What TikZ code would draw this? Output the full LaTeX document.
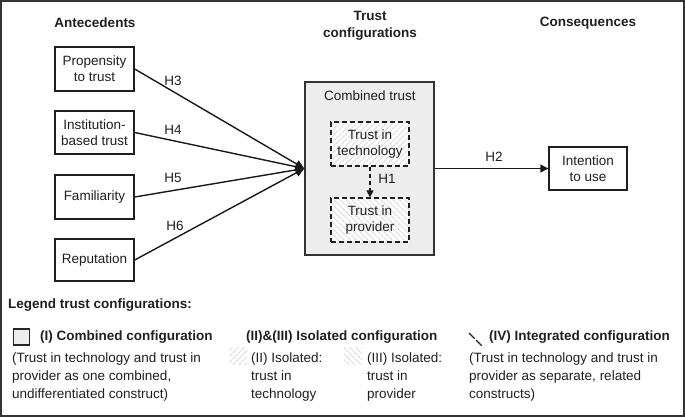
\documentclass[tikz,border=0pt]{standalone}
\usepackage{fontspec}
\setmainfont{Liberation Sans}
\usetikzlibrary{arrows.meta,patterns.meta}
\begin{document}
\begin{tikzpicture}[x=1pt,y=-1pt,
  every node/.style={font=\fontsize{13.5}{16}\selectfont, text=black!88},
  box/.style={draw=black!88, line width=1.4pt, fill=white, align=center, inner sep=0pt, minimum width=79pt},
  cbox/.style={draw=black!80, line width=1.4pt, fill=gray!14, inner sep=0pt, minimum width=129pt, minimum height=173pt},
  dbox/.style={draw=black!88, line width=1.5pt, dash pattern=on 5pt off 3pt, align=center, inner sep=0pt,
     minimum width=78pt, minimum height=44pt, preaction={fill=white}},
  hatchA/.style={pattern={Lines[angle=45,distance=4pt,line width=1.3pt]}, pattern color=gray!25},
  hatchB/.style={pattern={Lines[angle=-45,distance=4pt,line width=1.3pt]}, pattern color=gray!25},
  conn/.style={draw=black!90, line width=1.4pt, -{Triangle[length=9pt,width=8pt]}},
  head/.style={font=\bfseries\fontsize{13.5}{17}\selectfont, align=center, inner sep=0pt},
  lab/.style={inner sep=0pt, text height=10pt, text depth=3pt},
  leg/.style={inner sep=0pt, anchor=west, text height=10pt, text depth=3pt},
  legb/.style={leg, font=\bfseries\fontsize{13.5}{16}\selectfont}
]
\useasboundingbox (0,0) rectangle (685,417);
\draw[line width=1.8pt, draw=black!80] (1,1) rectangle (684,416);

% headings
\node[head] (hant) at (95,23) {Antecedents};
\node[head] (htc) at (370,26) {Trust\\configurations};
\node[head] (hcon) at (588,23) {Consequences};

% antecedents
\node[box, minimum height=44pt] (prop) at (94.5,69) {Propensity\\to trust};
\node[box, minimum height=43pt] (inst) at (94.5,132.5) {Institution-\\based trust};
\node[box, minimum height=44pt] (fam) at (94.5,197) {Familiarity};
\node[box, minimum height=42pt] (rep) at (94.5,260) {Reputation};

% central
\node[cbox] (comb) at (369.5,168.5) {};
\node[lab] (combl) at (370,97) {Combined trust};
\node[dbox, hatchA] (tech) at (370,144) {Trust in\\technology};
\node[dbox, hatchB] (prov) at (370,220) {Trust in\\provider};
\node[box, minimum width=78pt, minimum height=43pt] (int) at (588,168.5) {Intention\\to use};
\coordinate (tip) at (comb.west);

\draw[conn] (prop.east) -- (tip);
\draw[conn] (inst.east) -- (tip);
\draw[conn] (fam.east) -- (tip);
\draw[conn] (rep.east) -- (tip);
\node[lab] (h3) at (173,82) {H3};
\node[lab] (h4) at (173,131) {H4};
\node[lab] (h5) at (173,179) {H5};
\node[lab] (h6) at (175,227) {H6};

\draw[draw=black!90, line width=1.4pt, dash pattern=on 4pt off 3pt, -{Triangle[length=7pt,width=7pt]}] (tech.south) -- (prov.north);
\node[lab] (h1) at (387,180) {H1};
\draw[draw=black!90, line width=1.4pt, -{Triangle[length=8pt,width=8pt]}] (comb.east) -- (int.west);
\node[lab] (h2) at (494,158) {H2};

% legend
\node[legb] (legt) at (8,305) {Legend trust configurations:};
\node[draw=black!85, line width=1.6pt, fill=gray!14, minimum width=16pt, minimum height=16pt, inner sep=0pt] (sq) at (21.5,337) {};
\node[legb] (l1h) at (40,337) {(I) Combined configuration};
\node[leg] (l1a) at (12,359) {(Trust in technology and trust in};
\node[leg] (l1b) at (12,377) {provider as one combined,};
\node[leg] (l1c) at (12,395) {undifferentiated construct)};

\node[legb] (l2h) at (246,337) {(II)\&(III) Isolated configuration};
\node[hatchA, minimum width=18pt, minimum height=17pt, inner sep=0pt] (ic2) at (238,356) {};
\node[leg] (l2a) at (251,359) {(II) Isolated:};
\node[leg] (l2b) at (251,377) {trust in};
\node[leg] (l2c) at (251,395) {technology};
\node[hatchB, minimum width=18pt, minimum height=17pt, inner sep=0pt] (ic3) at (353,356) {};
\node[leg] (l3a) at (367,359) {(III) Isolated:};
\node[leg] (l3b) at (367,377) {trust in};
\node[leg] (l3c) at (367,395) {provider};

\coordinate (ic4a) at (469,333);
\coordinate (ic4b) at (482,346);
\draw[line width=1.3pt, draw=black!88, dash pattern=on 8pt off 2pt] (ic4a) -- (ic4b);
\node[legb] (l4h) at (489,337) {(IV) Integrated configuration};
\node[leg] (l4a) at (469,359) {(Trust in technology and trust in};
\node[leg] (l4b) at (469,377) {provider as separate, related};
\node[leg] (l4c) at (469,395) {constructs)};
\end{tikzpicture}
\end{document}
